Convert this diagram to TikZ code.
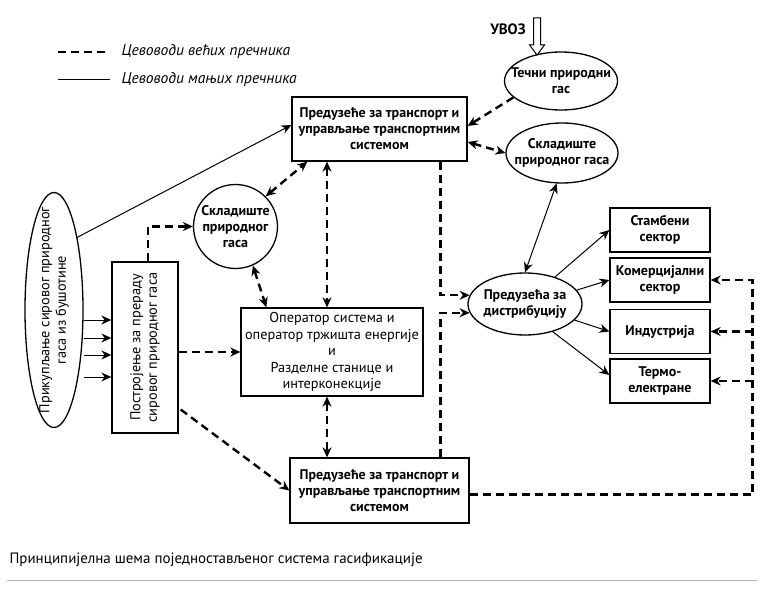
\documentclass[tikz,border=0pt]{standalone}
\usepackage{fontspec}
\setmainfont{PT Sans}[Script=Cyrillic,Language=Serbian]
\usetikzlibrary{arrows.meta,shapes.geometric,calc}
\tikzset{>={Stealth[length=10pt,width=9pt]}}
\tikzset{
  pipebig/.style={line width=2.4pt,dash pattern=on 8pt off 5pt},
  pipesmall/.style={line width=1pt},
  unitbox/.style={draw,line width=1.3pt,align=center,inner sep=2pt,
    font=\fontsize{14}{16}\selectfont\bfseries},
  unitoval/.style={unitbox,ellipse,inner sep=-20pt},
  unitround/.style={unitbox,circle,inner sep=-20pt},
  lightfont/.style={font=\fontsize{14.3}{16.5}\selectfont},
}

\begin{document}
\begin{tikzpicture}[x=1pt,y=-1pt]
		\useasboundingbox (0,0) rectangle (768,599);

		% legend
		\node[anchor=west,font=\fontsize{15.5}{17}\selectfont\itshape] (lgbig) at (118,52) {Цевоводи већих пречника};
		\node[anchor=west,font=\fontsize{15.5}{17}\selectfont\itshape] (lgsmall) at (118,80) {Цевоводи мањих пречника};
		\draw[pipebig] ([xshift=-60pt]lgbig.west) -- ([xshift=-8pt]lgbig.west);
		\draw[pipesmall] ([xshift=-60pt]lgsmall.west) -- ([xshift=-8pt]lgsmall.west);

		% units
		\node[unitbox,minimum width=175,minimum height=64] (tso) at (379.5,129) {Предузеће за транспорт и\\управљање транспортним\\системом};
		\node[unitbox,minimum width=179,minimum height=65] (tsoB) at (379.5,490.5) {Предузеће за транспорт и\\управљање транспортним\\системом};
		\node[unitbox,lightfont,minimum width=182,minimum height=88] (oper) at (332,352) {Оператор система и\\оператор тржишта енергије\\и\\Разделне станице и\\интерконекције};
		\node[unitoval,minimum width=113,minimum height=58] (lng) at (561,81) {Течни природни\\гас};
		\node[unitoval,minimum width=112,minimum height=60] (storR) at (562,153) {Складиште\\природног гаса};
		\node[unitround,minimum size=84] (storL) at (235.5,226.5) {Складиште\\природног\\гаса};
		\node[unitoval,lightfont,rotate=90,minimum width=235,minimum height=58] (well) at (54,310) {Прикупљање сировог природног\\гаса из бушотине};
		\node[unitbox,lightfont,rotate=90,minimum width=171,minimum height=66] (proc) at (145,347.5) {Постројење за прераду\\сировог природног гаса};
		\node[unitoval,minimum width=114,minimum height=62] (dist) at (525,304) {Предузећа за\\дистрибуцију};

		% consumers
		\node[unitbox,minimum width=100,minimum height=44] (res) at (660,230) {Стамбени\\сектор};
		\node[unitbox,minimum width=100,minimum height=44] (com) at (660,280) {Комерцијални\\сектор};
		\node[unitbox,minimum width=100,minimum height=44] (ind) at (660,331.5) {Индустрија};
		\node[unitbox,minimum width=100,minimum height=44] (tpp) at (660,381) {Термо-\\електране};

		% import
		\node[font=\fontsize{15}{17}\selectfont\bfseries] (uvoz) at (508,29) {УВОЗ};
		\coordinate (uvoztop) at (537,18);
		\draw[line width=1pt,fill=white] ($(uvoztop)+(-3.5,0)$) -- ++(0,27) -- ++(-4,0) -- ($(uvoztop)+(0,37)$)
			-- ($(uvoztop)+(7.5,27)$) -- ++(-4,0) -- ($(uvoztop)+(3.5,0)$) -- cycle;

		% helper points
		\coordinate (wellNE) at ($(well.center)+(22,-72)$);
		\coordinate (opT) at ([xshift=-5pt]oper.north);
		\coordinate (opB) at ([xshift=-5pt]oper.south);
		\coordinate (tsoOut) at ([xshift=-27pt]tso.south east);
		\coordinate (tsoBOut) at ([xshift=-29pt]tsoB.north east);
		\coordinate (bus) at ($(com.east)+(42,0)$);

		% small pipes
		\draw[pipesmall,->] (wellNE) -- ([yshift=4pt]tso.west);
		\foreach \yy in {320,338,355,377}
			\draw[pipesmall,->] (well.south |- 0,\yy) -- (proc.north |- 0,\yy);
		\draw[pipesmall,<->] (storR.-100) -- (dist.north);
		\draw[pipesmall,->] (dist.42) -- (res.west);
		\draw[pipesmall,->] (dist.15) -- (com.west);
		\draw[pipesmall,->] (dist.-18) -- (ind.west);
		\draw[pipesmall,->] (dist.-45) -- ([yshift=6pt]tpp.west);

		% big pipes
		\draw[pipebig,->] ([xshift=3pt]proc.east) |- (storL.west);
		\draw[pipebig,->] (proc.south |- oper.west) -- (oper.west);
		\draw[pipebig,->] ($(proc.south)+(2,62)$) -- (tsoB.west);
		\draw[pipebig,<->] (storL.45) -- ([xshift=16pt]tso.south west);
		\draw[pipebig,<->] (storL.-66) -- ([xshift=26pt]oper.north west);
		\draw[pipebig,<->] (opT |- tso.south) -- (opT);
		\draw[pipebig,<->] (opB) -- (opB |- tsoB.north);
		\draw[pipebig,->] (tsoOut) |- (dist.171);
		\draw[pipebig,->] (tsoBOut) |- (dist.189);
		\draw[pipebig,->] (lng.199) -- ([yshift=3pt]tso.east);
		\draw[pipebig,<->] ([yshift=-13pt]tso.east) -- (storR.west);
		\draw[pipebig,->] ([yshift=-4pt]tsoB.east) -| (bus) -- (com.east);
		\draw[pipebig,->] (bus |- ind.east) -- (ind.east);
		\draw[pipebig,->] (bus |- tpp.east) -- (tpp.east);

		% caption
		\node[anchor=west,font=\fontsize{15}{17}\selectfont] (caption) at (6,560) {Принципијелна шема поједностављеног система гасификације};
		\draw[gray!60,line width=1pt] (7,580) -- (757,580);
	\end{tikzpicture}
\end{document}
